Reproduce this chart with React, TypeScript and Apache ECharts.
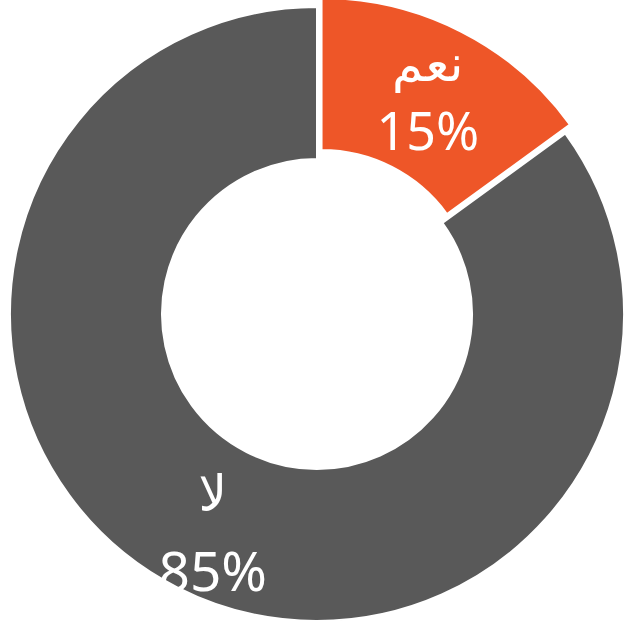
import React, { useEffect, useRef } from "react";
import * as echarts from "echarts";

const categories = ["نعم", "لا"];
const values = [15, 85];
const colors = ["#EE5628", "#595959"];

export default function App() {
  const ref = useRef<HTMLDivElement>(null);
  useEffect(() => {
    document.body.style.margin = "0";
    const chart = echarts.init(ref.current!, null, { renderer: "svg" });
    const arabic = "DejaVu Sans, Noto Sans, sans-serif";
    const latin = "Noto Sans, Open Sans, sans-serif";
    chart.setOption({
      animation: false,
      backgroundColor: "#ffffff",
      series: [
        {
          type: "pie",
          center: [317, 314],
          radius: [155, 307],
          startAngle: 90,
          clockwise: true,
          selectedMode: "single",
          selectedOffset: 10,
          avoidLabelOverlap: false,
          itemStyle: { borderColor: "#ffffff", borderWidth: 2 },
          label: {
            show: true,
            position: "inside",
            color: "#ffffff",
            offset: [3, 6],
            formatter: (p: any) => `{n|${p.name}}\n{v|${p.value}%}`,
            rich: {
              n: { fontSize: 50, lineHeight: 66, color: "#ffffff", fontFamily: arabic, fontWeight: "normal" },
              v: { fontSize: 52, lineHeight: 66, color: "#ffffff", fontFamily: latin, fontWeight: "normal" },
            },
          },
          labelLine: { show: false },
          data: categories.map((c, i) => ({
            name: c,
            value: values[i],
            selected: i === 0,
            itemStyle: { color: colors[i] },
            label:
              i === 1
                ? {
                    offset: [2, 4],
                    rich: {
                      n: { fontSize: 50, lineHeight: 86, padding: [22, 0, 0, 0], color: "#ffffff", fontFamily: arabic },
                      v: { fontSize: 55, lineHeight: 86, color: "#ffffff", fontFamily: latin, fontWeight: "normal" },
                    },
                  }
                : undefined,
          })),
        },
      ],
    });
    return () => chart.dispose();
  }, []);
  return <div ref={ref} style={{ position: "fixed", left: 0, top: 0, width: 624, height: 644 }} />;
}
